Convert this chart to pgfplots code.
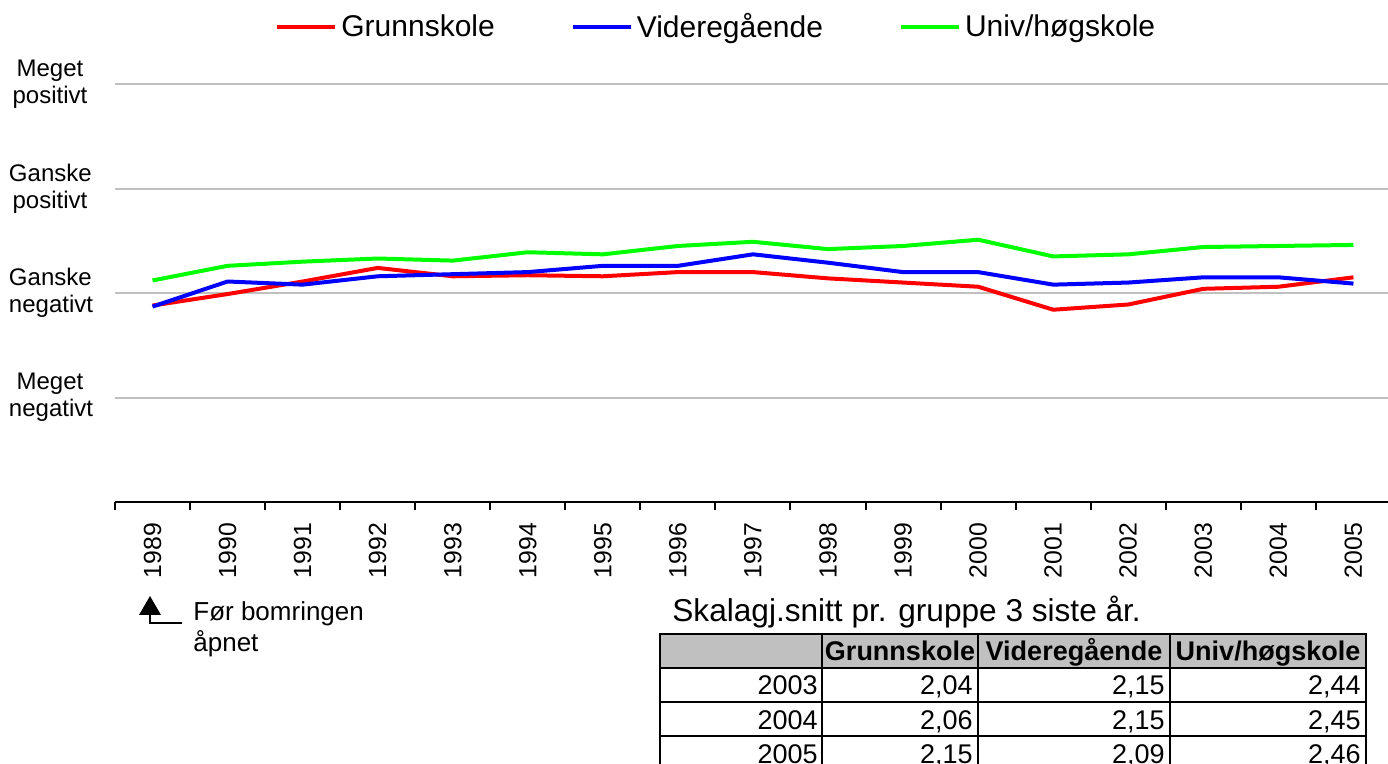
\documentclass[border=0pt]{standalone}
\usepackage{pgfplots}
\usepackage{pgfplotstable}
\pgfplotsset{compat=1.18}
\usepackage{fontspec}
\setmainfont{Liberation Sans}
\definecolor{lgreen}{RGB}{0,255,0}
\definecolor{gridgray}{RGB}{192,192,192}

\pgfplotstableread{
year g v u
1989 1.88 1.87 2.12
1990 1.99 2.11 2.26
1991 2.11 2.08 2.30
1992 2.24 2.16 2.33
1993 2.16 2.18 2.31
1994 2.17 2.20 2.39
1995 2.16 2.26 2.37
1996 2.20 2.26 2.45
1997 2.20 2.37 2.49
1998 2.14 2.29 2.42
1999 2.10 2.20 2.45
2000 2.06 2.20 2.51
2001 1.84 2.08 2.35
2002 1.89 2.10 2.37
2003 2.04 2.15 2.44
2004 2.06 2.15 2.45
2005 2.15 2.09 2.46
}\data

\begin{document}
\begin{tikzpicture}
\begin{axis}[
  at={(57.5pt,-251pt)}, anchor=south west,
  width=638pt, height=209pt, scale only axis,
  xmin=1988.5, xmax=2005.5, ymin=0, ymax=4,
  axis x line*=bottom, axis y line*=left,
  x axis line style={line width=1pt, -},
  y axis line style={draw=none},
  xtick={1989,...,2005},
  minor xtick={1988.5,1989.5,...,2005.5},
  major tick length=0pt, minor tick length=4pt,
  tick align=outside,
  minor tick style={line width=1pt, black},
  ytick style={draw=none},
  /pgf/number format/1000 sep={},
  /pgf/number format/assume math mode=true,
  xticklabel style={rotate=90, anchor=east, inner sep=0pt, outer xsep=10.5pt, outer ysep=0pt,
     font=\fontsize{12.4}{14}\selectfont},
  ytick={1,2,3,4},
  yticklabels={{Meget\\negativt},{Ganske\\negativt},{Ganske\\positivt},{Meget\\positivt}},
  yticklabel style={align=center, text width=41pt, inner sep=0pt, outer xsep=12pt, outer ysep=0pt,
     font=\fontsize{12}{13.5}\selectfont},
  ymajorgrids, grid style={line width=1pt, color=gridgray},
  legend columns=3,
  legend style={at={(0.472,1.136)}, anchor=center, draw=none, fill=none,
     font=\fontsize{15}{18}\selectfont,
     /tikz/every even column/.append style={column sep=36pt}},
  legend image code/.code={\draw[#1,line width=2pt] (0pt,0pt) -- (29pt,0pt);},
]
\addplot[red, line width=2pt, mark=none, line join=round] table[x=year,y=g]{\data};
\addlegendentry{Grunnskole}
\addplot[blue, line width=2pt, mark=none, line join=round] table[x=year,y=v]{\data};
\addlegendentry{Videregående}
\addplot[lgreen, line width=2pt, mark=none, line join=round] table[x=year,y=u]{\data};
\addlegendentry{Univ/høgskole}
\end{axis}

\begin{scope}[x=0.5pt,y=-0.5pt]
  % annotation
  \fill (150,596) -- (161,615) -- (139,615) -- cycle;
  \draw[line width=1pt] (150,615) -- (150,623) -- (182,623);
  \node[anchor=north west, align=left, inner sep=0pt, font=\fontsize{13}{15.5}\selectfont] at (193,601) {Før bomringen\\åpnet};
  % table title
  \node[anchor=base west, inner sep=0pt, font=\fontsize{15.8}{18}\selectfont] at (672,622) {Skalagj.snitt pr. gruppe 3 siste år.};
  % table
  \fill[gridgray] (660,634) rectangle (1366,668);
  \draw[line width=1pt] (660,634) rectangle (1366,770);
  \foreach \yy in {668,702,736} \draw[line width=1pt] (660,\yy) -- (1366,\yy);
  \foreach \xx in {822,978,1170} \draw[line width=1pt] (\xx,634) -- (\xx,770);
  \begin{scope}[every node/.style={inner sep=0pt, font=\fontsize{13.5}{16}\selectfont}]
    \node[anchor=base, font=\fontsize{13.5}{16}\selectfont\bfseries] at (900,661) {Grunnskole};
    \node[anchor=base, font=\fontsize{13.5}{16}\selectfont\bfseries] at (1074,661) {Videregående};
    \node[anchor=base, font=\fontsize{13.5}{16}\selectfont\bfseries] at (1268,661) {Univ/høgskole};
    \node[anchor=base east] at (818,695) {2003};
    \node[anchor=base east] at (973,695) {2,04};
    \node[anchor=base east] at (1165,695) {2,15};
    \node[anchor=base east] at (1361,695) {2,44};
    \node[anchor=base east] at (818,729) {2004};
    \node[anchor=base east] at (973,729) {2,06};
    \node[anchor=base east] at (1165,729) {2,15};
    \node[anchor=base east] at (1361,729) {2,45};
    \node[anchor=base east] at (818,763) {2005};
    \node[anchor=base east] at (973,763) {2,15};
    \node[anchor=base east] at (1165,763) {2,09};
    \node[anchor=base east] at (1361,763) {2,46};
  \end{scope}
\end{scope}
\pgfresetboundingbox
\path[use as bounding box] (0,0) rectangle (694pt,-382pt);
\end{tikzpicture}
\end{document}
